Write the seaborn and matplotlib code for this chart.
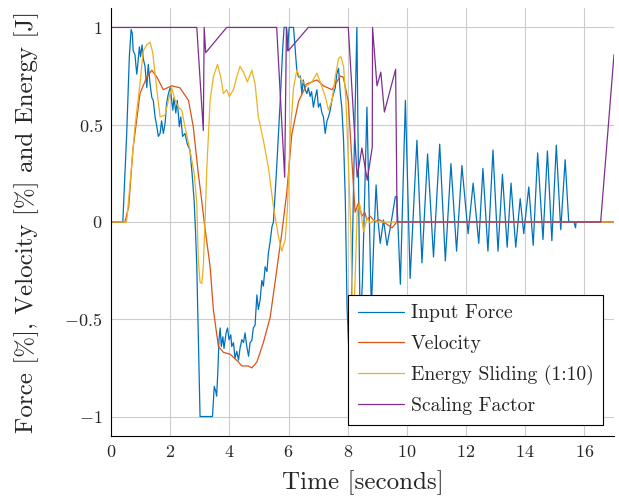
import numpy as np
import pandas as pd
import matplotlib
matplotlib.use("Agg")
import matplotlib.pyplot as plt
import seaborn as sns

# Input Force
force_t = [0, 0.40, 0.53, 0.62, 0.68, 0.72, 0.75, 0.81, 0.87, 0.90, 0.96, 1.00, 1.05, 1.09, 1.15,
           1.21, 1.26, 1.32, 1.38, 1.43, 1.49, 1.55, 1.60, 1.66, 1.71, 1.77, 1.83, 1.88, 1.94, 2.00,
           2.05, 2.09, 2.13, 2.19, 2.24, 2.31, 2.36, 2.42, 2.50, 2.58, 2.67, 2.74, 2.81, 2.86, 2.90,
           2.95, 3.01, 3.43, 3.49, 3.54, 3.57, 3.61, 3.65, 3.69, 3.73, 3.78, 3.82, 3.89, 3.94, 3.99,
           4.05, 4.08, 4.14, 4.19, 4.25, 4.31, 4.36, 4.42, 4.48, 4.53, 4.59, 4.65, 4.70, 4.76, 4.81,
           4.87, 4.93, 4.98, 5.04, 5.10, 5.15, 5.21, 5.27, 5.32, 5.38, 5.44, 5.49, 5.60, 5.72, 5.80,
           5.85, 5.93, 5.97, 6.02, 6.17, 6.28, 6.34, 6.40, 6.45, 6.50, 6.56, 6.62, 6.67, 6.73, 6.78,
           6.84, 6.90, 6.96, 7.01, 7.07, 7.13, 7.18, 7.24, 7.30, 7.35, 7.41, 7.47, 7.52, 7.58, 7.63,
           7.69, 7.75, 7.80, 7.86, 7.92, 7.98, 8.05, 8.12, 8.20, 8.31, 8.36, 8.42, 8.50, 8.65, 8.72,
           8.80, 8.88, 8.96, 9.03, 9.10, 9.21, 9.33, 9.45, 9.61, 9.66, 9.78, 9.95, 10.11, 10.34, 10.51,
           10.70, 10.90, 11.11, 11.30, 11.49, 11.68, 11.86, 12.07, 12.24, 12.43, 12.57, 12.74, 12.91,
           13.08, 13.23, 13.39, 13.52, 13.68, 13.83, 13.95, 14.12, 14.27, 14.42, 14.60, 14.75, 14.90,
           15.05, 15.20, 15.35, 15.47, 15.65, 15.70, 15.72, 17.0]
force = [0, 0, 0.45, 0.85, 0.99, 0.97, 0.88, 0.86, 0.76, 0.80, 0.90, 0.85, 0.91, 0.84, 0.80,
         0.69, 0.81, 0.71, 0.64, 0.625, 0.54, 0.49, 0.44, 0.455, 0.52, 0.455, 0.51, 0.61, 0.66, 0.69,
         0.625, 0.575, 0.64, 0.56, 0.625, 0.49, 0.54, 0.44, 0.455, 0.40, 0.37, 0.25, 0.11, -0.06, -0.23,
         -0.57, -1.0, -1.0, -0.845, -0.87, -0.895, -0.775, -0.605, -0.545, -0.64, -0.59, -0.65, -0.57, -0.545, -0.605,
         -0.58, -0.64, -0.62, -0.70, -0.665, -0.71, -0.65, -0.605, -0.62, -0.57, -0.64, -0.69, -0.62, -0.61, -0.545,
         -0.53, -0.375, -0.45, -0.40, -0.30, -0.33, -0.23, -0.255, -0.16, -0.10, -0.025, 0.0, 0.28, 0.625, 0.88,
         1.0, 1.0, 0.88, 1.0, 1.0, 0.78, 0.745, 0.75, 0.66, 0.73, 0.68, 0.66, 0.69, 0.645, 0.67,
         0.59, 0.64, 0.68, 0.59, 0.61, 0.56, 0.54, 0.455, 0.52, 0.54, 0.575, 0.63, 0.66, 0.69, 0.76,
         0.79, 0.66, 0.59, 0.42, 0.11, -0.45, -0.70, -0.45, 0.20, 1.0, 0.30, -0.55, -0.30, 0.59, 0.10,
         -0.45, -0.10, 0.19, 0.0, -0.11, 0.01, -0.12, -0.02, 0.13, 0.13, -0.32, 0.625, -0.29, 0.42, -0.21,
         0.35, -0.18, 0.40, -0.20, 0.30, -0.15, 0.29, -0.06, 0.20, -0.11, 0.275, -0.15, 0.37,
         -0.15, 0.245, -0.13, 0.20, -0.13, 0.12, -0.06, 0.18, -0.12, 0.355, -0.09, 0.365, -0.096,
         0.395, -0.04, 0.32, 0.0, 0.0, -0.03, 0.0, 0.0]

# Velocity
vel_t = [0, 0.47, 0.60, 0.74, 0.98, 1.21, 1.38, 1.55, 1.77, 2.05, 2.33, 2.62, 2.78, 2.95, 3.05,
         3.15, 3.35, 3.46, 3.63, 3.80, 4.03, 4.31, 4.42, 4.64, 4.76, 4.93, 5.15, 5.38, 5.60, 5.77,
         5.94, 6.11, 6.34, 6.62, 6.96, 7.18, 7.47, 7.75, 7.85, 8.02, 8.14, 8.25, 8.37, 8.48, 8.58,
         8.65, 8.76, 8.93, 9.04, 9.27, 9.50, 9.66, 17.0]
vel = [0, 0, 0.08, 0.37, 0.66, 0.745, 0.78, 0.745, 0.68, 0.70, 0.69, 0.625, 0.49, 0.25, 0.13,
       0.0, -0.23, -0.45, -0.64, -0.67, -0.68, -0.72, -0.74, -0.74, -0.75, -0.72, -0.62, -0.49, -0.25, -0.06,
       0.15, 0.45, 0.62, 0.71, 0.73, 0.70, 0.68, 0.75, 0.745, 0.62, 0.32, 0.05, 0.10, 0.03, 0.05,
       0.01, 0.03, 0.0, 0.013, -0.006, -0.03, 0.0, 0.0]

# Energy Sliding (1:10)
energy_t = [0, 0.53, 0.81, 0.98, 1.09, 1.21, 1.32, 1.41, 1.55, 1.66, 1.83, 1.94, 2.05, 2.17, 2.28,
            2.39, 2.50, 2.67, 2.81, 2.90, 2.95, 3.01, 3.07, 3.12, 3.18, 3.24, 3.35, 3.46, 3.60, 3.71,
            3.80, 3.91, 4.00, 4.14, 4.25, 4.36, 4.48, 4.61, 4.76, 4.87, 4.98, 5.15, 5.32, 5.49, 5.66,
            5.77, 5.89, 5.96, 6.06, 6.17, 6.28, 6.42, 6.62, 6.79, 6.96, 7.07, 7.24, 7.35, 7.47, 7.58,
            7.69, 7.77, 7.86, 7.94, 8.03, 8.11, 8.17, 8.25, 8.32, 8.40, 8.54, 8.65, 8.76, 8.90, 9.00, 17.0]
energy = [0, 0, 0.49, 0.71, 0.88, 0.91, 0.925, 0.87, 0.68, 0.54, 0.55, 0.625, 0.69, 0.625, 0.59,
          0.575, 0.49, 0.37, 0.25, 0.10, -0.195, -0.31, -0.315, -0.23, 0.01, 0.28, 0.625, 0.745, 0.81, 0.745,
          0.66, 0.68, 0.645, 0.68, 0.745, 0.80, 0.77, 0.72, 0.78, 0.71, 0.54, 0.42, 0.28, 0.08, -0.075,
          -0.15, -0.09, 0.06, 0.45, 0.69, 0.78, 0.73, 0.70, 0.72, 0.765, 0.72, 0.645, 0.575, 0.625, 0.745,
          0.84, 0.85, 0.80, 0.625, 0.28, -0.06, -0.60, -0.30, 0.05, 0.095, -0.05, 0.02, -0.005, 0.01, 0.0, 0.0]

# Scaling Factor
scale_t = [0, 2.90, 3.12, 3.15, 3.20, 3.91, 5.60, 5.87, 5.93, 5.99, 6.67, 8.02, 8.32, 8.48, 8.66,
           8.83, 8.84, 8.99, 9.12, 9.24, 9.62, 9.67, 16.55, 17.0]
scale = [1, 1, 0.47, 1, 0.87, 1, 1, 0.23, 1, 0.88, 1, 1, 0.23, 0.38, 0.215,
         0.385, 1, 0.70, 0.77, 0.565, 0.785, 0, 0, 0.86]

series = [
    ("Input Force", force_t, force, "#0072BD"),
    ("Velocity", vel_t, vel, "#D95319"),
    ("Energy Sliding (1:10)", energy_t, energy, "#EDB120"),
    ("Scaling Factor", scale_t, scale, "#7E2F8E"),
]

sns.set_style("white")
plt.rcParams["font.family"] = "serif"
plt.rcParams["font.serif"] = ["cmr10"]
plt.rcParams["mathtext.fontset"] = "cm"
plt.rcParams["axes.unicode_minus"] = True

fig = plt.figure(figsize=(6.19, 4.99), dpi=100)
ax = fig.add_axes([0.1793, 0.1263, 0.8126, 0.8577])

for name, t, v, c in series:
    df = pd.DataFrame({"t": t, "v": v})
    sns.lineplot(data=df, x="t", y="v", ax=ax, color=c, linewidth=0.9,
                 estimator=None, sort=False, label=name)

ax.set_xlim(0, 17)
ax.set_ylim(-1.1, 1.1)
ax.set_xticks(np.arange(0, 17, 2))
ax.set_xticklabels([f"${v}$" for v in range(0, 17, 2)])
ax.set_yticks([-1, -0.5, 0, 0.5, 1])
ax.set_yticklabels(["$-1$", "$-0.5$", "$0$", "$0.5$", "$1$"])
ax.tick_params(labelsize=13, direction="in", length=4, color="#b0b0b0", pad=6)
ax.grid(True, color="#cccccc", linewidth=0.8)
for s in ["top", "right"]:
    ax.spines[s].set_visible(False)
for s in ["left", "bottom"]:
    ax.spines[s].set_color("black")
    ax.spines[s].set_linewidth(0.8)

ax.set_xlabel("Time [seconds]", fontsize=18, labelpad=7)
ax.set_ylabel("Force [%], Velocity [%] and Energy [J]", fontsize=18, labelpad=18)

leg = ax.legend(loc="lower right", fontsize=14.2, frameon=True, fancybox=False,
                edgecolor="black", framealpha=1, handlelength=2.3, handletextpad=0.35,
                borderaxespad=0.55, labelspacing=0.62, borderpad=0.5)
leg.get_frame().set_linewidth(0.8)

fig.savefig("out.png", dpi=100)
